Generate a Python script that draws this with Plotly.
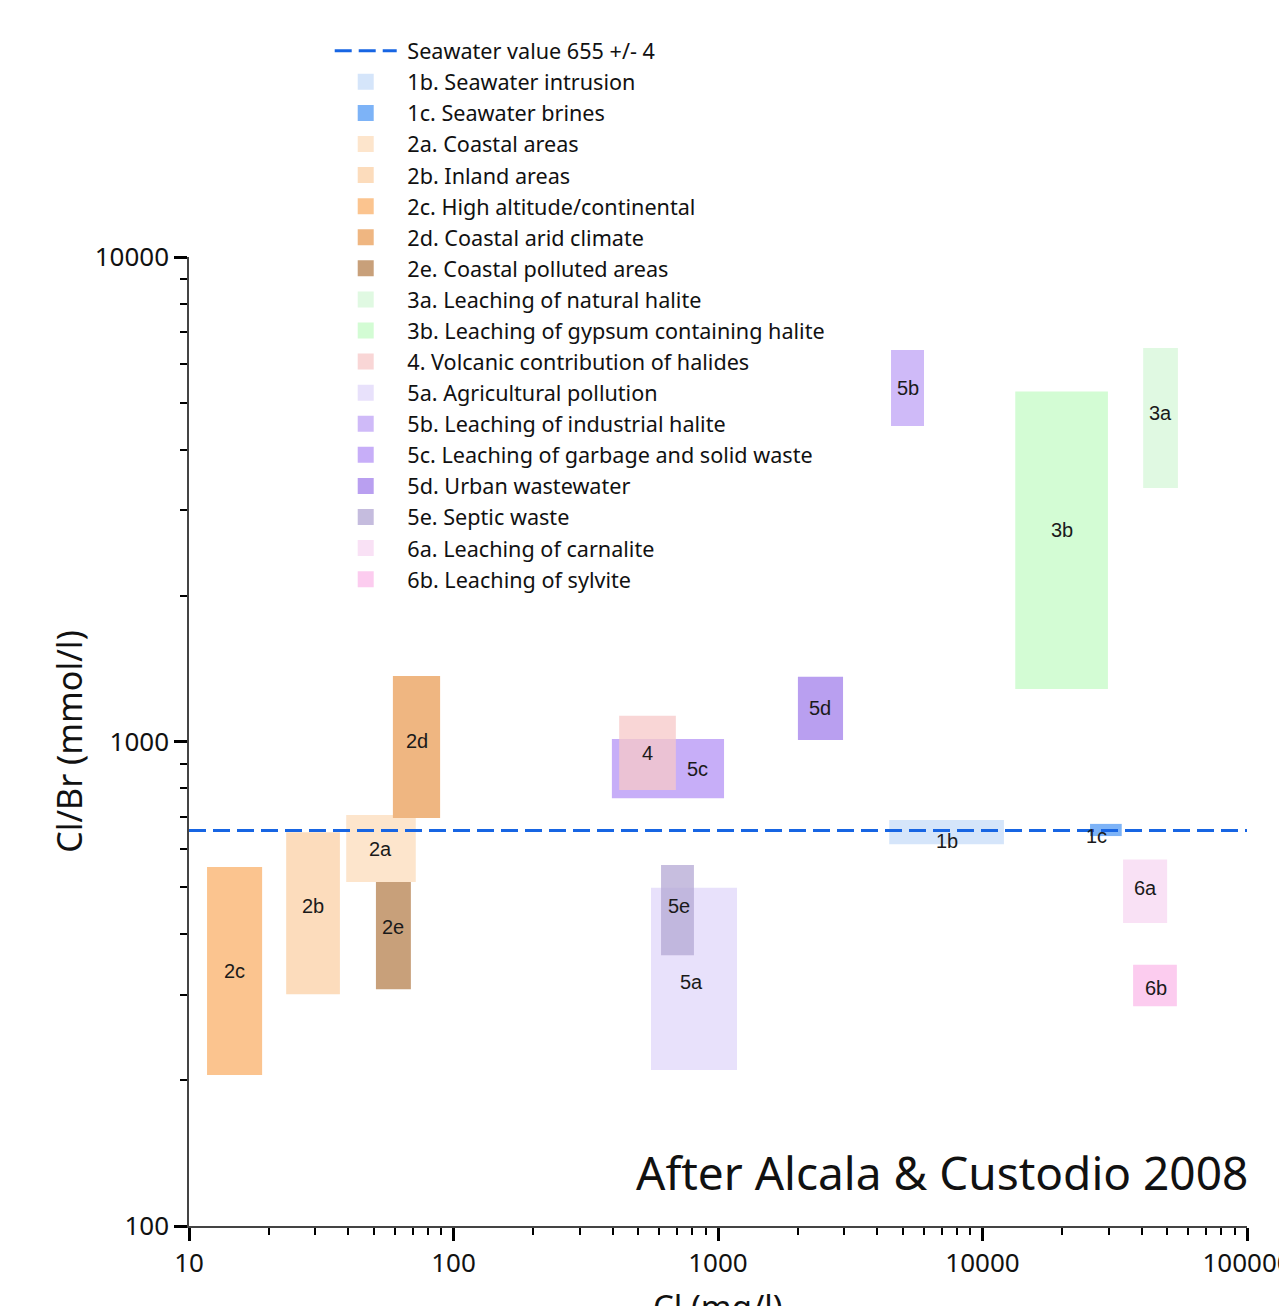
import numpy as np
import plotly.graph_objects as go

# ---------------- data ----------------
codes = ["1b", "1c", "2a", "2b", "2c", "2d", "2e", "3a", "3b", "4",
         "5a", "5b", "5c", "5d", "5e", "6a", "6b"]
names = ["1b. Seawater intrusion", "1c. Seawater brines", "2a. Coastal areas",
         "2b. Inland areas", "2c. High altitude/continental", "2d. Coastal arid climate",
         "2e. Coastal polluted areas", "3a. Leaching of natural halite",
         "3b. Leaching of gypsum containing halite", "4. Volcanic contribution of halides",
         "5a. Agricultural pollution", "5b. Leaching of industrial halite",
         "5c. Leaching of garbage and solid waste", "5d. Urban wastewater",
         "5e. Septic waste", "6a. Leaching of carnalite", "6b. Leaching of sylvite"]
cl_min = [4440, 25500, 39.3, 23.3, 11.7, 59, 50.9, 40500, 13300, 423,
          558, 4510, 397, 2005, 609, 34000, 37100]
cl_max = [12050, 33600, 72, 37.2, 18.9, 89, 69, 54800, 29800, 693,
          1180, 6010, 1054, 2970, 811, 49900, 54300]
ratio_min = [614, 638, 513, 301, 205, 695, 308, 3335, 1283, 794,
             210, 4480, 764, 1007, 362, 422, 284]
ratio_max = [689, 676, 705, 650, 551, 1365, 513, 6490, 5280, 1130,
             499, 6430, 1012, 1360, 556, 571, 346]
colors = ["#d5e5fa", "#7db3f7", "#fde5cc", "#fcdcbc", "#fbc48f", "#efb681",
          "#c8a07a", "#e0f9e2", "#d3fcd4", "rgba(247,200,200,0.75)",
          "#e8e1fb", "#cfbaf8", "#c7aef8", "#b99ff0", "rgba(180,168,212,0.75)",
          "#f9e1f5", "#fcccef"]
legend_colors = ["#d5e5fa", "#7db3f7", "#fde5cc", "#fcdcbc", "#fbc48f", "#efb681",
                 "#c8a07a", "#e0f9e2", "#d3fcd4", "#f9d6d6",
                 "#e8e1fb", "#cfbaf8", "#c7aef8", "#b99ff0", "#c5bcde",
                 "#f9e1f5", "#fcccef"]
# small pixel nudges of the box labels (x, y)
label_nudge = {"1b": (0, -9), "1c": (-9, -6), "2d": (0, 6), "2b": (0, 7),
               "2e": (0, 9), "3b": (0, 10), "3a": (0, 5), "5c": (30, 0),
               "5e": (2, 4), "5a": (-3, -3), "6a": (0, 3), "6b": (1, -2)}

seawater_value = 655
seawater_name = "Seawater value 655 +/- 4"
x_title = "Cl (mg/l)"
y_title = "Cl/Br (mmol/l)"
x_range = [10, 100000]
x_ticks = [10, 100, 1000, 10000, 100000]
x_ticktext = ["10", "100", "1000", "10000", "100000"]
y_ticks = [100, 1000, 10000]
y_ticktext = ["100", "1000", "10000"]

# ---------------- figure ----------------
fig = go.Figure()

draw_order = [i for i, c in enumerate(codes) if c != "4"] + [codes.index("4")]
for i in draw_order:
    x0, x1, y0, y1 = cl_min[i], cl_max[i], ratio_min[i], ratio_max[i]
    fig.add_trace(go.Scatter(
        x=[x0, x1, x1, x0, x0], y=[y0, y0, y1, y1, y0],
        mode="lines", fill="toself", fillcolor=colors[i],
        line=dict(width=0, color=colors[i]),
        showlegend=False, hoverinfo="skip"))

# seawater line (on top of rectangles)
fig.add_trace(go.Scatter(
    x=x_range, y=[seawater_value, seawater_value], mode="lines",
    line=dict(color="#1765e3", width=3, dash="17px,7px"),
    name="\u00a0" + seawater_name, legendrank=1, hoverinfo="skip"))

# legend entries
for i, nm in enumerate(names):
    fig.add_trace(go.Scatter(
        x=[None], y=[None], mode="markers", name="\u00a0" + nm, legendrank=2 + i,
        marker=dict(symbol="square", size=17, color=legend_colors[i],
                    line=dict(width=0))))

# rectangle labels
for i, c in enumerate(codes):
    lx = 0.5 * (np.log10(cl_min[i]) + np.log10(cl_max[i]))
    ly = 0.5 * (np.log10(ratio_min[i]) + np.log10(ratio_max[i]))
    dx, dy = label_nudge.get(c, (0, 0))
    fig.add_annotation(x=lx, y=ly, xref="x", yref="y", text=c, showarrow=False,
                       xshift=dx, yshift=dy,
                       font=dict(family="Liberation Sans, Arial", size=20, color="#1a1a1a"))

fig.add_annotation(x=1.003, y=0.056, xref="paper", yref="paper",
                   xanchor="right", yanchor="middle", showarrow=False,
                   text="After Alcala & Custodio 2008",
                   font=dict(family="Noto Sans", size=46, color="#111111"))

# x-axis title (placed low, partly cut by the page edge as in the original)
fig.add_annotation(x=0.5, y=-0.058, xref="paper", yref="paper",
                   xanchor="center", yanchor="top", showarrow=False,
                   text=x_title,
                   font=dict(family="Noto Sans", size=33, color="#111111"))

tickfont = dict(family="Noto Sans", size=26, color="#111111")
x_minor = [m * 10 ** d for d in range(1, 5) for m in range(2, 10)]
y_minor = [m * 10 ** d for d in range(2, 4) for m in range(2, 10)]

fig.update_xaxes(
    type="log", range=[1, 5], showgrid=False, zeroline=False,
    showline=True, linecolor="#444444", linewidth=1.5,
    ticks="outside", ticklen=13, tickwidth=3, tickcolor="#000000",
    tickvals=x_ticks, ticktext=x_ticktext, tickfont=tickfont,
    ticklabeloverflow="allow",
    minor=dict(ticks="outside", ticklen=7, tickwidth=1.5, tickcolor="#000000",
               tickvals=x_minor, showgrid=False),
    automargin=False)
fig.update_yaxes(
    type="log", range=[2, 4], showgrid=False, zeroline=False,
    showline=True, linecolor="#444444", linewidth=1.5,
    ticks="outside", ticklen=13, tickwidth=3, tickcolor="#000000",
    tickvals=y_ticks, ticktext=y_ticktext, tickfont=tickfont,
    ticklabeloverflow="allow",
    minor=dict(ticks="outside", ticklen=7, tickwidth=1.5, tickcolor="#000000",
               tickvals=y_minor, showgrid=False),
    title=dict(text=y_title, font=dict(family="Noto Sans", size=34, color="#111111"),
               standoff=2),
    automargin=False)

fig.update_layout(
    width=1279, height=1306,
    margin=dict(l=189, r=32, t=257, b=80, pad=0),
    paper_bgcolor="white", plot_bgcolor="white",
    showlegend=True,
    legend=dict(x=0.133, y=1.234, xanchor="left", yanchor="top",
                bgcolor="rgba(0,0,0,0)", borderwidth=0,
                font=dict(family="Noto Sans", size=21.6, color="#111111"),
                itemwidth=62, tracegroupgap=0, itemsizing="trace"),
    template=None,
)

fig.write_html("out.html")
